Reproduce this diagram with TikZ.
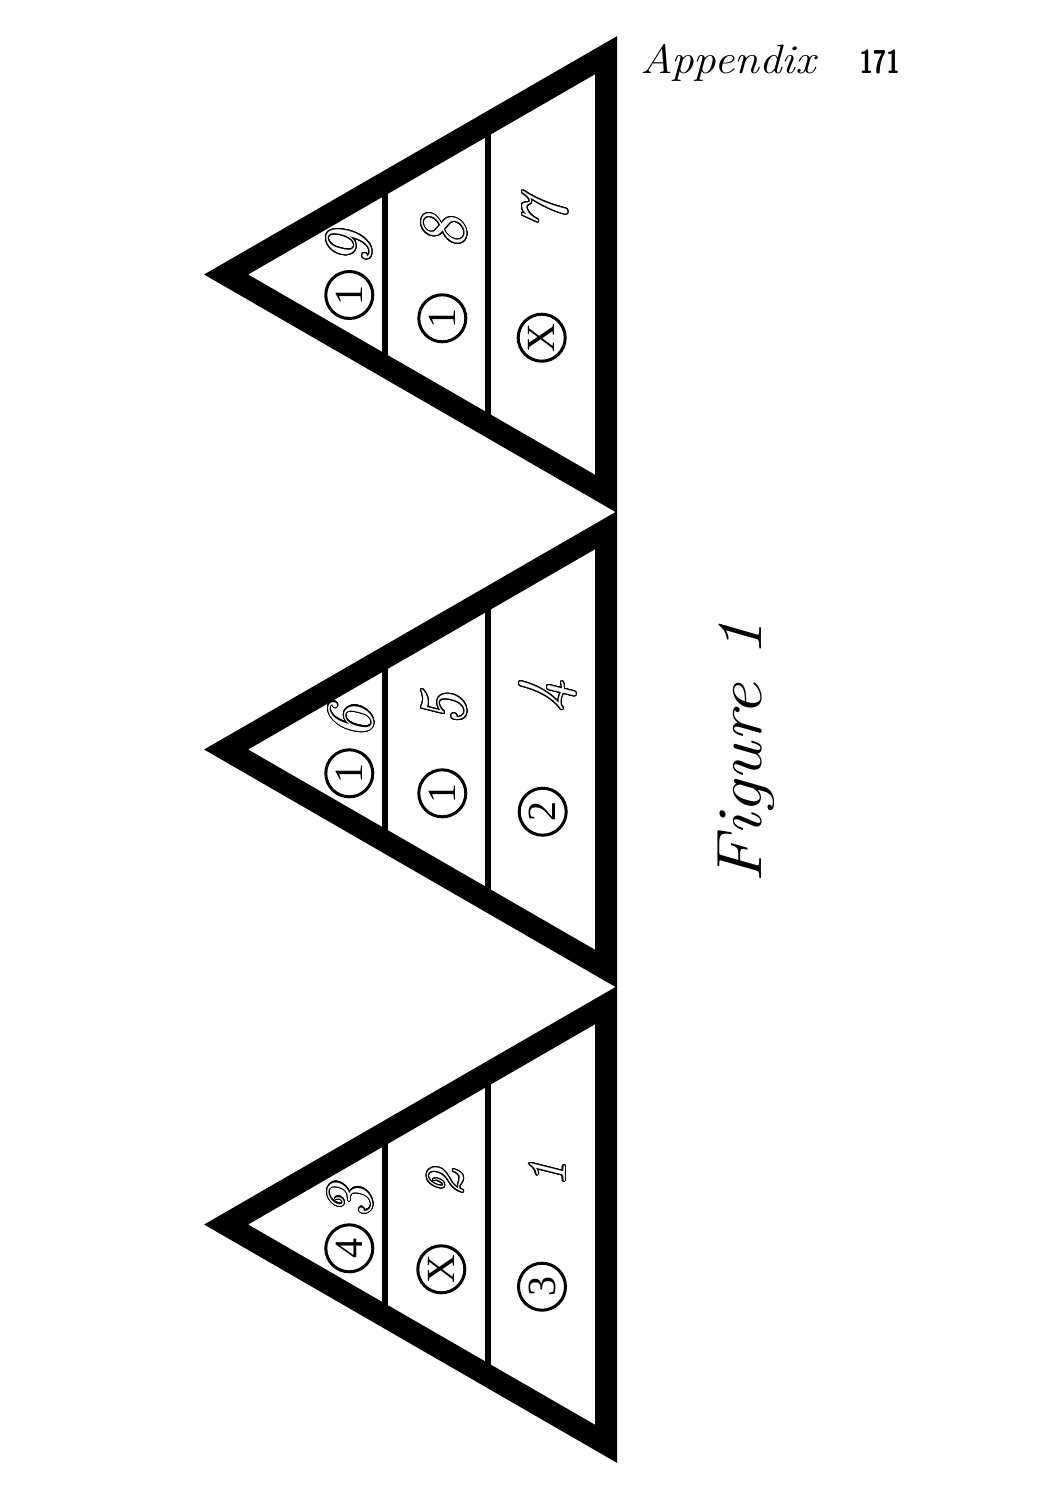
\documentclass[tikz,border=0pt]{standalone}
\usepackage{fontspec}
\usepackage{graphicx}
\usepackage[copies]{contour}
\contourlength{1.1pt}
\contournumber{24}
\newfontfamily\ringfont{Liberation Serif}

\tikzset{
  frame/.style={line width=22pt, line join=miter},
  rung/.style={line width=6pt},
  hollow/.style={rotate=90, inner sep=0pt, font=\fontsize{66}{66}\selectfont\itshape},
  hollowsm/.style={hollow, font=\fontsize{53}{53}\selectfont\itshape},
  ring/.style={draw, circle, line width=3pt, minimum size=47pt, inner sep=0pt, rotate=90, font=\fontsize{40}{40}\selectfont\ringfont}
}
\newcommand{\hollowtext}[1]{\textcolor{white}{\contour{black}{#1}}}

\begin{document}
\begin{tikzpicture}[x=1pt, y=-1pt]

\useasboundingbox (0,0) rectangle (1050,1500) ;

% running head
\node [anchor=base west, inner sep=0pt, font=\fontsize{41}{41}\selectfont\itshape] (head) at (640,73) {\scalebox{1.1}[1]{Appendix}} ;
\node [anchor=base east, inner sep=0pt, font=\fontsize{33}{33}\selectfont\bfseries\sffamily] (folio) at (900,73) {\scalebox{0.74}[1]{171}} ;

% rungs first, the thick frames go over their ends
\draw [rung] (384.5,183) -- ++(0,183) ;
\draw [rung] (488,123.3) -- ++(0,302.4) ;
\draw [rung] (384.5,658) -- ++(0,183) ;
\draw [rung] (488,598.3) -- ++(0,302.4) ;
\draw [rung] (384.5,1133) -- ++(0,183) ;
\draw [rung] (488,1073.3) -- ++(0,302.4) ;

\draw [frame] (226.1,274.5) -- ++(380.1,-219.4) -- ++(0,438.8) -- cycle ;
\draw [frame] (226.1,749.5) -- ++(380.1,-219.4) -- ++(0,438.8) -- cycle ;
\draw [frame] (226.1,1224.5) -- ++(380.1,-219.4) -- ++(0,438.8) -- cycle ;

% top pennant
\node [hollow] (nine) at (350,249) {\hollowtext{9}} ;
\node [ring] (ringnine) at (349.3,295) {1} ;
\node [hollow] (eight) at (444.7,233.3) {\hollowtext{8}} ;
\node [ring] (ringeight) at (442.3,318.3) {1} ;
\node [hollow] (seven) at (546,215) {\hollowtext{7}} ;
\node [ring] (ringseven) at (541.7,337.7) {X} ;

% middle pennant
\node [hollow] (six) at (351.7,722.5) {\hollowtext{6}} ;
\node [ring] (ringsix) at (349.3,773.3) {1} ;
\node [hollow] (five) at (445,710) {\hollowtext{5}} ;
\node [ring] (ringfive) at (442.3,793.3) {1} ;
\node [hollow] (four) at (548.3,695.8) {\hollowtext{4}} ;
\node [ring] (ringfour) at (542.7,811.7) {2} ;

% bottom pennant
\node [hollow] (three) at (351,1202.5) {\hollowtext{3}} ;
\node [ring] (ringthree) at (349.3,1248.3) {4} ;
\node [hollowsm] (two) at (445.8,1183.3) {\hollowtext{2}} ;
\node [ring] (ringtwo) at (441.3,1269.3) {X} ;
\node [hollowsm] (one) at (548,1174) {\hollowtext{1}} ;
\node [ring] (ringone) at (542,1286.7) {3} ;

% caption
\node [rotate=90, anchor=base, inner sep=0pt, font=\fontsize{64}{64}\selectfont\itshape] (caption) at (761,752) {\scalebox{1.15}[1]{Figure 1}} ;

\end{tikzpicture}
\end{document}
